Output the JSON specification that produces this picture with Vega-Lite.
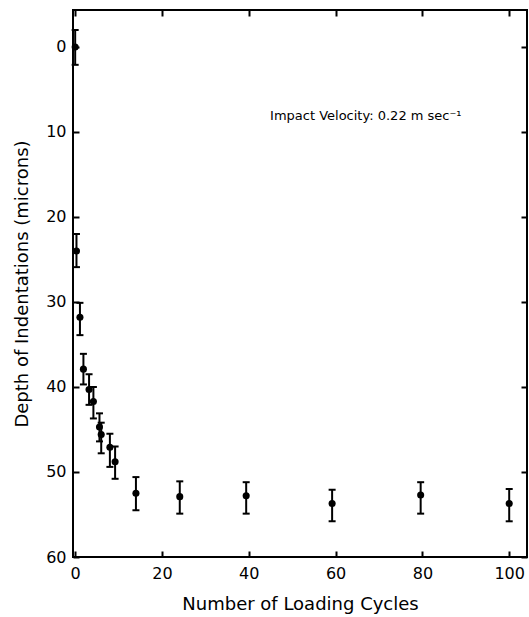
{
  "$schema": "https://vega.github.io/schema/vega-lite/v6.json",
  "width": 454,
  "height": 547,
  "autosize": {"type": "none"},
  "padding": {"left": 73, "top": 10, "right": 2, "bottom": 60},
  "background": "white",
  "config": {
    "view": {"stroke": "black", "strokeWidth": 2},
    "font": "DejaVu Sans",
    "axis": {"grid": false, "domain": false, "tickColor": "black", "tickWidth": 2, "tickSize": -6, "labelColor": "black", "titleColor": "black", "labelFontSize": 16, "titleFontSize": 18, "titleFontWeight": "normal"}
  },
  "data": {"values": [
    {"cycles": 0, "depth": 0, "lo": -2, "hi": 2.1},
    {"cycles": 0.3, "depth": 24, "lo": 22, "hi": 25.9},
    {"cycles": 1.1, "depth": 31.8, "lo": 30.1, "hi": 33.9},
    {"cycles": 1.9, "depth": 37.9, "lo": 36.1, "hi": 39.7},
    {"cycles": 3.2, "depth": 40.3, "lo": 38.5, "hi": 42.1},
    {"cycles": 4.2, "depth": 41.7, "lo": 40.0, "hi": 43.7},
    {"cycles": 5.6, "depth": 44.7, "lo": 43.1, "hi": 46.4},
    {"cycles": 6.0, "depth": 45.6, "lo": 44.2, "hi": 47.8},
    {"cycles": 8.0, "depth": 47.1, "lo": 45.5, "hi": 49.4},
    {"cycles": 9.2, "depth": 48.8, "lo": 47.0, "hi": 50.8},
    {"cycles": 14.0, "depth": 52.5, "lo": 50.6, "hi": 54.5},
    {"cycles": 24.1, "depth": 52.9, "lo": 51.1, "hi": 54.9},
    {"cycles": 39.4, "depth": 52.8, "lo": 51.2, "hi": 54.9},
    {"cycles": 59.2, "depth": 53.7, "lo": 52.1, "hi": 55.8},
    {"cycles": 79.6, "depth": 52.7, "lo": 51.2, "hi": 54.9},
    {"cycles": 100, "depth": 53.7, "lo": 52.0, "hi": 55.8}
  ]},
  "layer": [
    {
      "mark": {"type": "rule", "color": "black", "strokeWidth": 2},
      "encoding": {
        "x": {"field": "cycles", "type": "quantitative", "scale": {"domain": [-0.5, 104.1], "nice": false, "zero": false},
              "axis": {"orient": "bottom", "values": [0, 20, 40, 60, 80, 100], "labelPadding": 14, "title": "Number of Loading Cycles", "titlePadding": 14}},
        "y": {"field": "lo", "type": "quantitative", "scale": {"domain": [-4.35, 60], "reverse": true, "nice": false, "zero": false},
              "axis": {"orient": "left", "values": [0, 10, 20, 30, 40, 50, 60], "labelPadding": 13, "title": "Depth of Indentations (microns)", "titlePadding": 14}},
        "y2": {"field": "hi"}
      }
    },
    {
      "mark": {"type": "tick", "orient": "horizontal", "color": "black", "thickness": 2, "size": 7, "opacity": 1},
      "encoding": {
        "x": {"field": "cycles", "type": "quantitative", "axis": null},
        "y": {"field": "lo", "type": "quantitative", "axis": null}
      }
    },
    {
      "mark": {"type": "tick", "orient": "horizontal", "color": "black", "thickness": 2, "size": 7, "opacity": 1},
      "encoding": {
        "x": {"field": "cycles", "type": "quantitative", "axis": null},
        "y": {"field": "hi", "type": "quantitative", "axis": null}
      }
    },
    {
      "mark": {"type": "point", "filled": true, "color": "black", "size": 50, "opacity": 1},
      "encoding": {
        "x": {"field": "cycles", "type": "quantitative", "axis": {"orient": "top", "values": [0, 20, 40, 60, 80, 100], "labels": false, "title": null}},
        "y": {"field": "depth", "type": "quantitative", "axis": {"orient": "right", "values": [0, 10, 20, 30, 40, 50, 60], "labels": false, "title": null}}
      }
    },
    {
      "data": {"values": [{"note": "Impact Velocity: 0.22 m sec⁻¹"}]},
      "mark": {"type": "text", "align": "left", "baseline": "middle", "fontSize": 13, "fontWeight": "normal", "color": "black"},
      "encoding": {
        "x": {"datum": 44.9, "type": "quantitative", "axis": null},
        "y": {"datum": 8.1, "type": "quantitative", "axis": null},
        "text": {"field": "note"}
      }
    }
  ],
  "resolve": {"axis": {"x": "independent", "y": "independent"}}
}
